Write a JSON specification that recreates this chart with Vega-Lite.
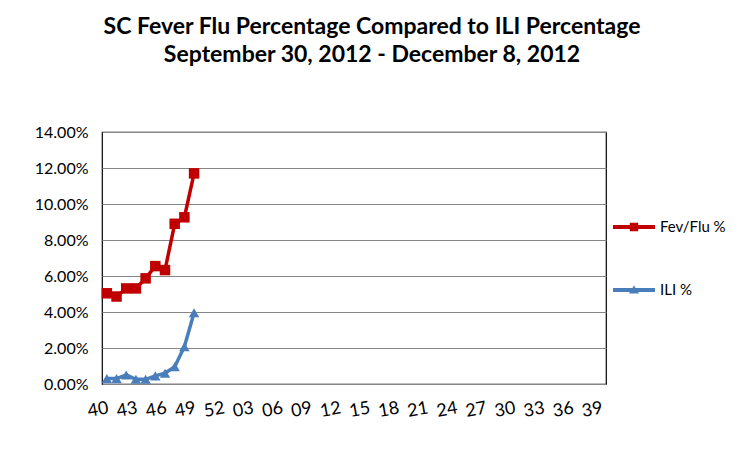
{
  "$schema": "https://vega.github.io/schema/vega-lite/v6.json",
  "autosize": "none",
  "width": 504,
  "height": 252,
  "padding": {"left": 102, "top": 132, "right": 144, "bottom": 65},
  "background": "white",
  "title": {
    "text": ["SC Fever Flu Percentage Compared to ILI Percentage", "September 30, 2012 - December 8, 2012"],
    "font": "Lato",
    "fontSize": 23,
    "fontWeight": "bold",
    "color": "#000000",
    "anchor": "middle",
    "dx": 18,
    "offset": 57,
    "lineHeight": 28
  },
  "config": {
    "view": {"stroke": "#000000", "strokeWidth": 1.2},
    "font": "Lato"
  },
  "data": {
    "values": [
      {"week": "40", "series": "Fev/Flu %", "pct": 0.0504},
      {"week": "41", "series": "Fev/Flu %", "pct": 0.0486},
      {"week": "42", "series": "Fev/Flu %", "pct": 0.0531},
      {"week": "43", "series": "Fev/Flu %", "pct": 0.0531},
      {"week": "44", "series": "Fev/Flu %", "pct": 0.0587},
      {"week": "45", "series": "Fev/Flu %", "pct": 0.0655},
      {"week": "46", "series": "Fev/Flu %", "pct": 0.0633},
      {"week": "47", "series": "Fev/Flu %", "pct": 0.0890},
      {"week": "48", "series": "Fev/Flu %", "pct": 0.0926},
      {"week": "49", "series": "Fev/Flu %", "pct": 0.1170},
      {"week": "40", "series": "ILI %", "pct": 0.0030},
      {"week": "41", "series": "ILI %", "pct": 0.0030},
      {"week": "42", "series": "ILI %", "pct": 0.0050},
      {"week": "43", "series": "ILI %", "pct": 0.0026},
      {"week": "44", "series": "ILI %", "pct": 0.0026},
      {"week": "45", "series": "ILI %", "pct": 0.0045},
      {"week": "46", "series": "ILI %", "pct": 0.0060},
      {"week": "47", "series": "ILI %", "pct": 0.0096},
      {"week": "48", "series": "ILI %", "pct": 0.0207},
      {"week": "49", "series": "ILI %", "pct": 0.0396}
    ]
  },
  "encoding": {
    "x": {
      "field": "week",
      "type": "ordinal",
      "scale": {
        "type": "band",
        "paddingInner": 0,
        "paddingOuter": 0,
        "domain": ["40","41","42","43","44","45","46","47","48","49","50","51","52","01","02","03","04","05","06","07","08","09","10","11","12","13","14","15","16","17","18","19","20","21","22","23","24","25","26","27","28","29","30","31","32","33","34","35","36","37","38","39"]
      },
      "axis": {
        "title": null,
        "values": ["40","43","46","49","52","03","06","09","12","15","18","21","24","27","30","33","36","39"],
        "labelAngle": -10,
        "labelFontSize": 18,
        "labelColor": "#000000",
        "labelPadding": 15,
        "ticks": false,
        "domain": false,
        "grid": false
      }
    },
    "y": {
      "field": "pct",
      "type": "quantitative",
      "scale": {"domain": [0, 0.14], "nice": false},
      "axis": {
        "title": null,
        "values": [0, 0.02, 0.04, 0.06, 0.08, 0.1, 0.12, 0.14],
        "format": ".2%",
        "labelFontSize": 16,
        "labelColor": "#000000",
        "labelPadding": 14,
        "ticks": false,
        "domain": false,
        "gridColor": "#868686",
        "gridWidth": 1.2
      }
    },
    "color": {
      "field": "series",
      "type": "nominal",
      "scale": {"domain": ["Fev/Flu %", "ILI %"], "range": ["#C00000", "#4A7EBB"]},
      "legend": {
        "title": null,
        "orient": "none",
        "legendX": 511,
        "legendY": 74,
        "labelFontSize": 15,
        "labelColor": "#000000",
        "labelOffset": 5,
        "symbolSize": 1764,
        "rowPadding": 34,
        "symbolType": "M-1,-0.09H1V0.09H-1Z M-0.2,-0.2H0.2V0.2H-0.2Z",
        "symbolStrokeWidth": 0,
        "encode": {
          "symbols": {
            "update": {
              "shape": {"signal": "datum.value == 'ILI %' ? 'M-1,-0.09H1V0.09H-1Z M-0.24,0.17L0,-0.22L0.24,0.17Z' : 'M-1,-0.09H1V0.09H-1Z M-0.2,-0.2H0.2V0.2H-0.2Z'"},
              "fill": {"signal": "datum.value == 'ILI %' ? '#4A7EBB' : '#C00000'"},
              "fillOpacity": {"value": 1},
              "strokeWidth": {"value": 0}
            }
          }
        }
      }
    }
  },
  "layer": [
    {
      "mark": {"type": "line", "strokeWidth": 3.5}
    },
    {
      "transform": [{"filter": "datum.series == 'Fev/Flu %'"}],
      "mark": {"type": "point", "filled": true, "opacity": 1, "shape": "square", "size": 110}
    },
    {
      "transform": [{"filter": "datum.series == 'ILI %'"}],
      "mark": {"type": "point", "filled": true, "opacity": 1, "shape": "triangle-up", "size": 110}
    }
  ]
}
